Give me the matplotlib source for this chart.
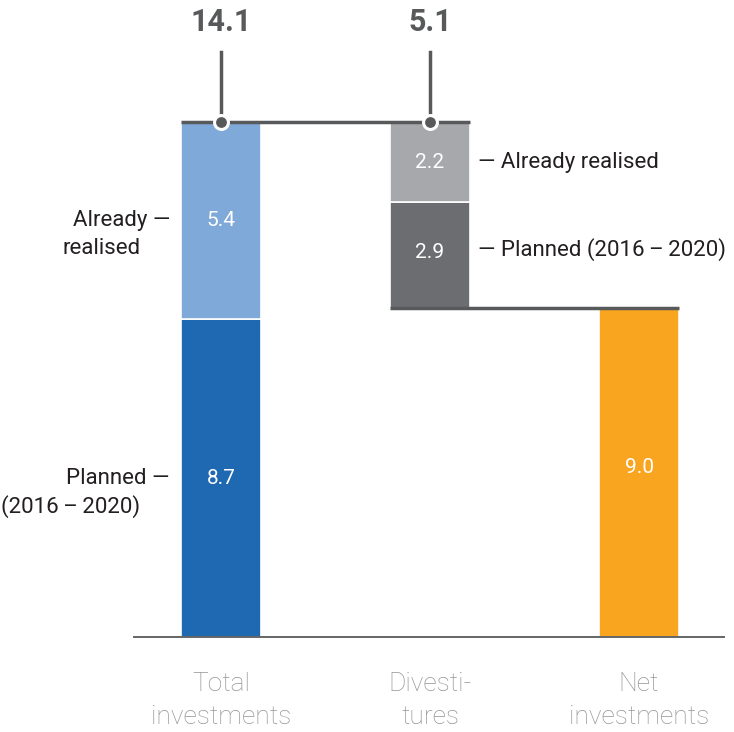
import numpy as np
import matplotlib.pyplot as plt

# data
categories = ["Total\ninvestments", "Divesti-\ntures", "Net\ninvestments"]
total_realised = 5.4
total_planned = 8.7
divest_realised = 2.2
divest_planned = 2.9
net_value = 9.0
total_sum = 14.1
divest_sum = 5.1
left_labels = ["Already", "realised", "Planned", "(2016\u2009–\u20092020)"]
right_labels = ["Already realised", "Planned (2016\u2009–\u20092020)"]

# colours
c_light_blue = "#7fa9d8"
c_blue = "#1f68b2"
c_light_grey = "#a7a8ab"
c_dark_grey = "#6c6d70"
c_orange = "#f9a51f"
c_line = "#58595b"
c_text = "#231f20"

plt.rcParams['font.family'] = ['Roboto', 'DejaVu Sans']

fig = plt.figure(figsize=(7.34, 7.32), dpi=100)
ax = fig.add_axes([0, 0, 1, 1])
ax.axis('off')

# pixel layout -> data limits (baseline at 637px, 36.52 px per unit, 209 px per category)
ppu = 36.52
ax.set_ylim(-(732 - 637) / ppu, 637 / ppu)
ax.set_xlim(-221 / 209, (734 - 221) / 209)

x = np.arange(3)
w = 0.383
divest_base = total_sum - divest_sum

# bars
ax.bar(x[0], total_planned, w, color=c_blue, edgecolor='white', linewidth=1.2)
ax.bar(x[0], total_realised, w, bottom=total_planned, color=c_light_blue,
       edgecolor='white', linewidth=1.2)
ax.bar(x[1], divest_planned, w, bottom=divest_base, color=c_dark_grey,
       edgecolor='white', linewidth=1.2)
ax.bar(x[1], divest_realised, w, bottom=divest_base + divest_planned,
       color=c_light_grey, edgecolor='white', linewidth=1.2)
ax.bar(x[2], net_value, w, color=c_orange, edgecolor='white', linewidth=1.2)

# values inside bars
vk = dict(ha='center', va='center', color='white', fontsize=15)
ax.text(x[0], total_planned / 2, f"{total_planned:.1f}", **vk)
ax.text(x[0], total_planned + total_realised / 2, f"{total_realised:.1f}", **vk)
ax.text(x[1], divest_base + divest_planned / 2 + 0.08, f"{divest_planned:.1f}", **vk)
ax.text(x[1], divest_base + divest_planned + divest_realised / 2,
        f"{divest_realised:.1f}", **vk)
ax.text(x[2], net_value / 2 + 0.15, f"{net_value:.1f}", **vk)

# baseline and connectors
ax.plot([-0.421, 2.411], [0, 0], color=c_line, lw=1.3, solid_capstyle='butt')
ax.plot([x[0] - w / 2, x[1] + w / 2], [total_sum, total_sum], color=c_line,
        lw=2.5, solid_capstyle='butt')
ax.plot([x[1] - w / 2, x[2] + w / 2], [divest_base, divest_base], color=c_line,
        lw=2.5, solid_capstyle='butt')

# leader lines with dots to the sums
top_y = total_sum + 70 / ppu
for xi in x[:2]:
    ax.plot([xi, xi], [total_sum, top_y], color=c_line, lw=2.5)
    ax.plot(xi, total_sum, 'o', ms=10, mfc=c_line, mec='white', mew=2.2)
ax.text(x[0], total_sum + 100 / ppu, f"{total_sum:.1f}", ha='center',
        va='center', fontsize=22, fontweight='bold', color=c_line)
ax.text(x[1], total_sum + 100 / ppu, f"{divest_sum:.1f}", ha='center',
        va='center', fontsize=22, fontweight='bold', color=c_line)

# left annotations
lk = dict(ha='right', va='center', color=c_text, fontsize=16)
y_ar = total_planned + total_realised / 2
ax.text(-0.245, y_ar, left_labels[0] + " —", **lk)
ax.text(-0.385, y_ar - 28 / ppu, left_labels[1], **lk)
y_pl = total_planned / 2
ax.text(-0.245, y_pl, left_labels[2] + " —", **lk)
ax.text(-0.385, y_pl - 28 / ppu, left_labels[3], **lk)

# right annotations
rk = dict(ha='left', va='center', color=c_text, fontsize=16)
ax.text(x[1] + 0.23, divest_base + divest_planned + divest_realised / 2,
        "— " + right_labels[0], **rk)
ax.text(x[1] + 0.23, divest_base + divest_planned / 2 + 0.15,
        "— " + right_labels[1], **rk)

# category labels
for xi, lab in zip(x, categories):
    ax.text(xi, -35 / ppu, lab, ha='center', va='top', fontsize=19,
            fontweight='light', color='#959595', linespacing=1.45)

fig.savefig("out.png", dpi=100)
